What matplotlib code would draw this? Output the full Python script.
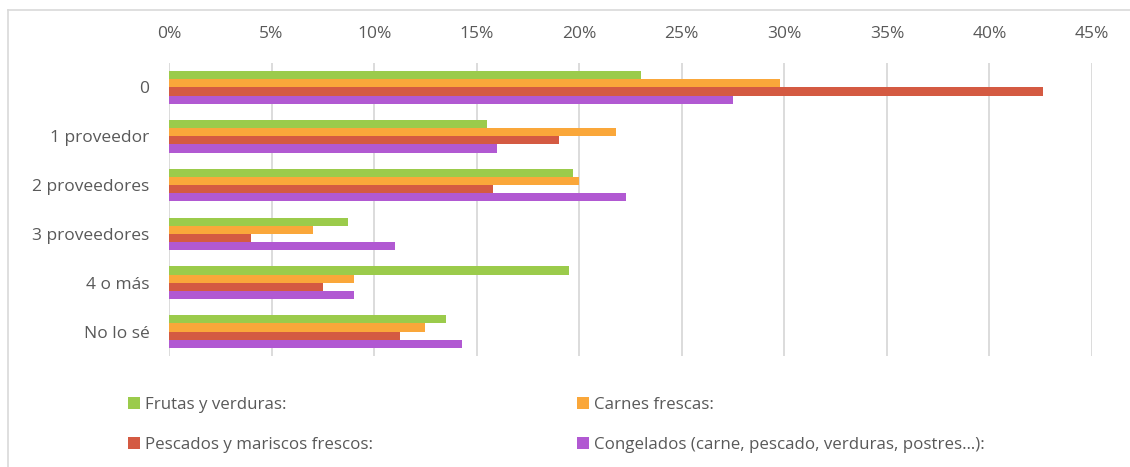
import matplotlib
matplotlib.use("Agg")
import matplotlib.pyplot as plt
from matplotlib.patches import Patch
from matplotlib.lines import Line2D
import numpy as np

categories = ["0", "1 proveedor", "2 proveedores", "3 proveedores", "4 o más", "No lo sé"]
series_names = ["Frutas y verduras:", "Carnes frescas:", "Pescados y mariscos frescos:",
                "Congelados (carne, pescado, verduras, postres…):"]
frutas = [23.0, 15.5, 19.7, 8.75, 19.5, 13.5]
carnes = [29.8, 21.8, 20.0, 7.0, 9.0, 12.5]
pescados = [42.6, 19.0, 15.8, 4.0, 7.5, 11.25]
congelados = [27.5, 16.0, 22.3, 11.0, 9.0, 14.3]
x_ticks = [0, 5, 10, 15, 20, 25, 30, 35, 40, 45]

colors = ["#9BCB4B", "#FAA73A", "#D45A42", "#B159D2"]
text_color = "#595959"
grid_color = "#D9D9D9"

plt.rcParams['font.family'] = ['Open Sans', 'DejaVu Sans']

fig = plt.figure(figsize=(11.3, 4.67), dpi=100)
ax = fig.add_axes([169/1130, 1-356/467, (1092-169)/1130, (356-63)/467])

data = [frutas, carnes, pescados, congelados]
n = len(categories)
y = np.arange(n)
bh = 0.168
for i, (vals, c) in enumerate(zip(data, colors)):
    ax.barh(y + (i - 1.5) * bh, vals, height=bh, color=c, label=series_names[i], zorder=3)

ax.set_xlim(0, 45)
ax.set_ylim(n - 0.5, -0.5)
ax.set_xticks(x_ticks)
ax.set_xticklabels([f"{t}%" for t in x_ticks])
ax.xaxis.tick_top()
ax.set_yticks(y)
ax.set_yticklabels(categories)
ax.tick_params(axis='both', length=0, colors=text_color, labelsize=12.5)
ax.tick_params(axis='x', pad=15)
ax.tick_params(axis='y', pad=14)
ax.grid(axis='x', color=grid_color, linewidth=1.3, zorder=0)
for s in ax.spines.values():
    s.set_visible(False)

# chart border (top & left visible)
fig.add_artist(Line2D([7.5/1130, 1.0], [1-10/467, 1-10/467], color=grid_color, linewidth=1.2))
fig.add_artist(Line2D([7.5/1130, 7.5/1130], [0, 1-10/467], color=grid_color, linewidth=1.2))

handles = [Patch(facecolor=c) for c in colors]
leg_kw = dict(frameon=False, fontsize=12.2, labelcolor=text_color, handlelength=0.7,
              handleheight=0.7, handletextpad=0.3, labelspacing=1.4, borderaxespad=0,
              borderpad=0)
leg1 = fig.legend([handles[0], handles[2]], [series_names[0], series_names[2]],
                  loc="upper left", bbox_to_anchor=(128/1130, 1-397/467), **leg_kw)
leg2 = fig.legend([handles[1], handles[3]], [series_names[1], series_names[3]],
                  loc="upper left", bbox_to_anchor=(577/1130, 1-397/467), **leg_kw)

fig.savefig("out.png", dpi=100)
